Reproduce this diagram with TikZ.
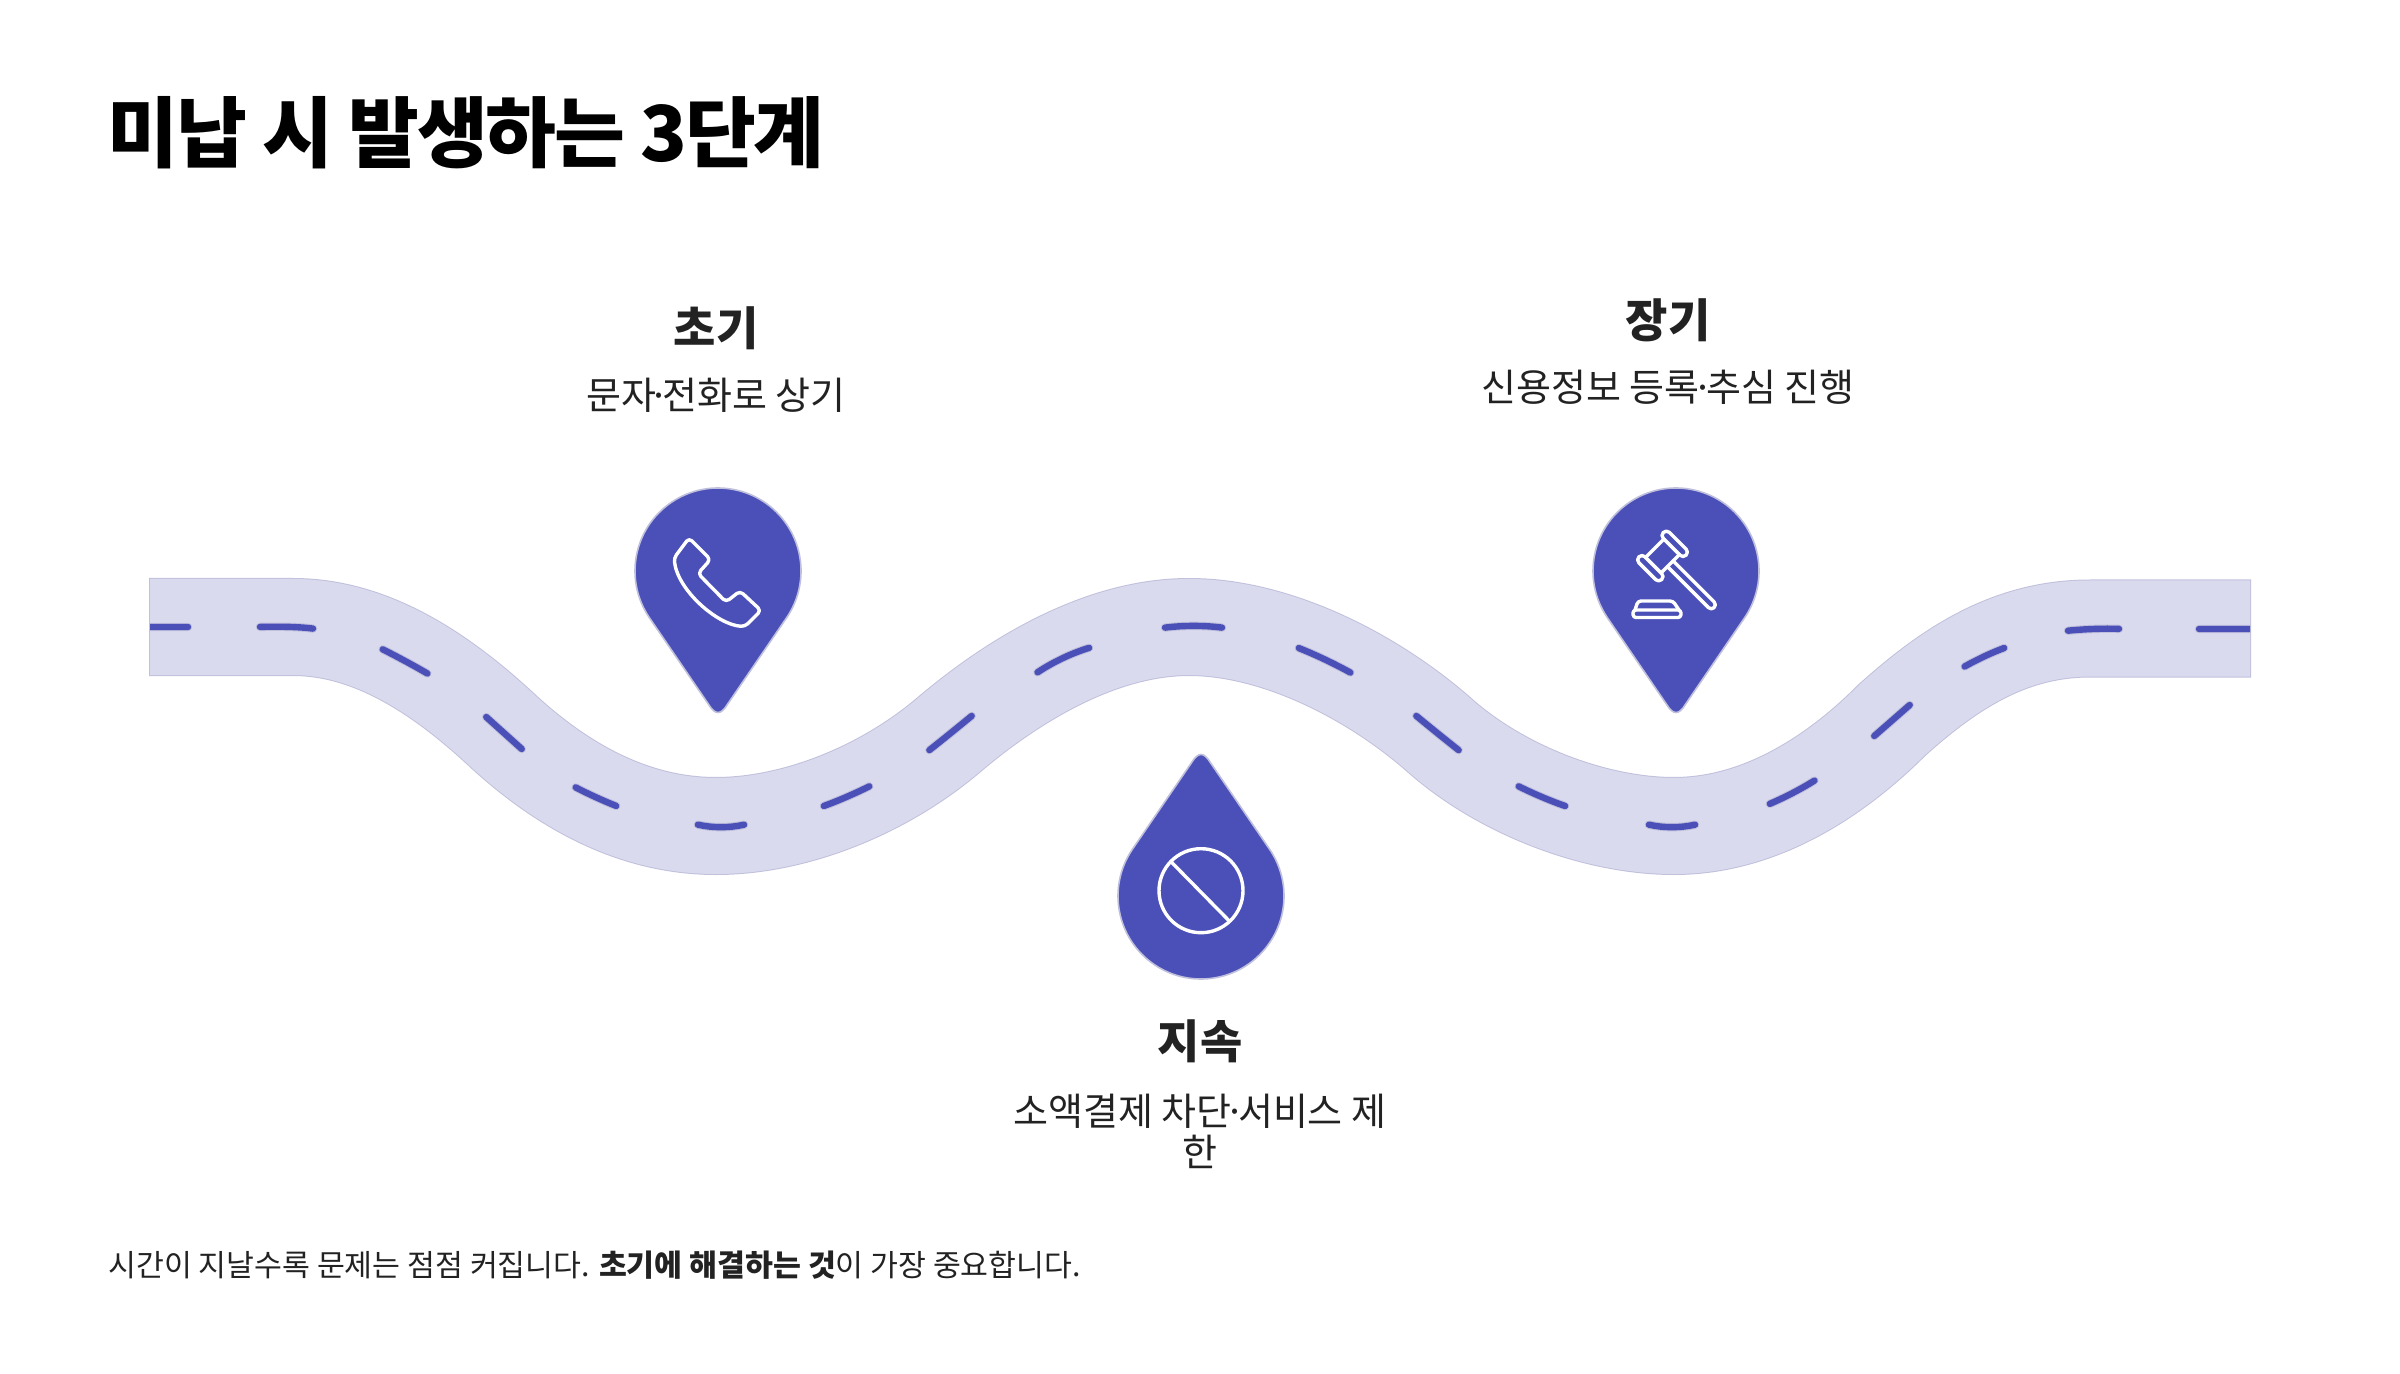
\documentclass[tikz,border=0pt]{standalone}
\usepackage{fontspec}
\usetikzlibrary{positioning,calc}
\setmainfont{Noto Sans CJK KR}
\newfontfamily\semifont{Noto Sans CJK KR Medium}
\definecolor{pinc}{RGB}{74,80,184}
\definecolor{roadc}{RGB}{218,218,239}
\definecolor{edgec}{RGB}{192,192,220}
\definecolor{txtc}{RGB}{34,34,34}
\newcommand{\fsz}[1]{\fontsize{#1}{#1}\selectfont}
\newcommand{\mdot}{\kern-.2em·\kern-.2em}
\newcommand{\roadline}{(150,627) -- (293,627) .. controls (370,627) and (440,672) .. (505,733)
 .. controls (570,792) and (640,826) .. (716,826)
 .. controls (795,826) and (885,790) .. (951,733)
 .. controls (1020,675) and (1105,627) .. (1189,627)
 .. controls (1275,627) and (1370,675) .. (1437,733)
 .. controls (1500,790) and (1595,826) .. (1674,826)
 .. controls (1755,826) and (1830,782) .. (1892,720)
 .. controls (1950,668) and (2010,628.5) .. (2090,628.5) -- (2250,628.5)}
\newcommand{\pinshape}{(146:83) arc[start angle=146,end angle=394,radius=83] -- (9,134)
 .. controls (3,144) and (-3,144) .. (-9,134) -- cycle}
\tikzset{pin/.style={draw=edgec,fill=pinc,line width=.8pt},
 icon/.style={draw=white,line width=1.7pt,line join=round,line cap=round},
 roadedge/.style={draw=edgec,line width=49pt},
 roadfill/.style={draw=roadc,line width=48pt},
 lanehalo/.style={draw=edgec,line width=4.2pt,line cap=round,shorten >=1.5pt,shorten <=1.5pt},
 lane/.style={draw=pinc,line width=3.2pt,line cap=round,shorten >=1.5pt,shorten <=1.5pt},
 head/.style={font=\semifont\fsz{23}\bfseries,text=txtc,inner sep=0pt},
 sub/.style={font=\fsz{19},text=txtc,inner sep=0pt,align=center}}
\begin{document}
\begin{tikzpicture}[x=.5pt,y=-.5pt]
\useasboundingbox (0,0) rectangle (2400,1374);
\node[font=\fsz{38.5}\bfseries,text=black,anchor=west,inner sep=0pt] (title) at (107,133) {\addfontfeature{LetterSpace=-2.9}미납 시 발생하는 3단계};
% road
\draw[roadedge] (149,627) -- \roadline -- (2251,628.5);
\draw[roadfill] \roadline;
\begin{scope}
\clip (150,570) rectangle (2250,890);
\foreach \ax/\ay/\cx/\cy/\bx/\by in {147/627/170/627/191/627,257/627/293.5/626/316/629,
 380/648/405/660.5/430/675,484/715/504/733/524/751,573/786/596/798/619/807,
 695/824/721/830/747/824,821/807/846/798/872/785,927/752/951/733/974/714,
 1035/674/1062/656/1092/647,1162/628/1194/624/1225/628,1296/647/1324/658/1353/674,
 1414/714/1437/733/1461/752,1516/785/1542/798/1568/807,1646/824/1672/830/1698/824,
 1767/805/1793/794/1817/779,1872/738/1892/720.5/1912/703,1962/668/1985/655/2007/647,
 2065/631/2095/628/2122/629,2196/629/2225/629/2253/629}{
 \coordinate (la) at (\ax,\ay);\coordinate (lc) at (\cx,\cy);\coordinate (lb) at (\bx,\by);
 \draw[lanehalo] (la) .. controls ($(la)!.667!(lc)$) and ($(lb)!.667!(lc)$) .. (lb);
 \draw[lane] (la) .. controls ($(la)!.667!(lc)$) and ($(lb)!.667!(lc)$) .. (lb);
}
\end{scope}
% pins
\begin{scope}[shift={(718,571)}]
\draw[pin] \pinshape;
\draw[icon,rounded corners=2pt] (-29,-33) -- (-7.5,-11.5) -- (-20,2.5) -- (8,31) -- (22,20) -- (43,39.5) -- (27,55.5)
 .. controls (0,54) and (-40,20) .. (-44,-13) -- cycle;
\end{scope}
\begin{scope}[shift={(1676,571)}]
\draw[pin] \pinshape;
\begin{scope}[shift={(-13.5,-15)},rotate=-45]
\draw[icon,rounded corners=2pt] (-16,-21.5) rectangle (16,-13);
\draw[icon,rounded corners=2pt] (-16,13) rectangle (16,21.5);
\draw[icon] (-11,-13) -- (-11,13) (11,-13) -- (11,13);
\draw[icon,rounded corners=2pt] (11,-4) -- (73,-4) -- (73,4) -- (11,4);
\end{scope}
\draw[icon,rounded corners=1.5pt] (-43,39) rectangle (5,46.5);
\draw[icon,rounded corners=1.5pt] (-41,39) -- (-38,30) -- (-3,30) -- (3,39);
\end{scope}
\begin{scope}[shift={(1201,896)},y=.5pt]
\draw[pin] \pinshape;
\draw[icon] (0,5.3) circle[radius=42];
\draw[icon] (-30,34.3) -- (28,-24.7);
\end{scope}
% labels
\node[head] (early) at (716,328) {초기};
\node[sub] (earlytxt) at (716,395) {문자\mdot 전화로 상기};
\node[head] (late) at (1668,320) {장기};
\node[sub] (latetxt) at (1668,387) {신용정보 등록\mdot 추심 진행};
\node[head] (cont) at (1200,1041) {지속};
\node[sub,font=\fontsize{19}{20.5}\selectfont] (conttxt) at (1200,1131) {소액결제 차단\mdot 서비스 제\\한};
\node[font=\fsz{15.15},text=txtc,anchor=west,inner sep=0pt] (note) at (108,1265) {시간이 지날수록 문제는 점점 커집니다. {\semifont\bfseries 초기에 해결하는 것}이 가장 중요합니다.};
\end{tikzpicture}
\end{document}
